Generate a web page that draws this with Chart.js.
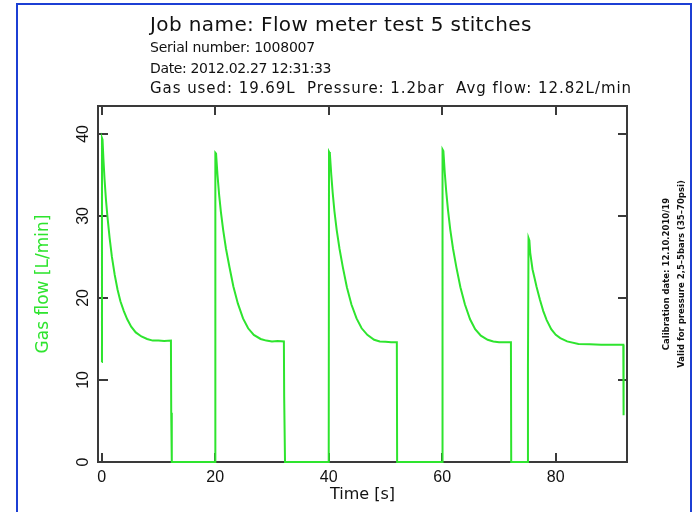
<!DOCTYPE html>
<html><head><meta charset="utf-8">
<script src="https://cdn.jsdelivr.net/npm/chart.js@4.4.0/dist/chart.umd.min.js"></script>
<style>
html,body{margin:0;padding:0;background:#fff;}
#wrap{position:relative;width:693px;height:512px;overflow:hidden;background:#fff;}
#frame{position:absolute;left:16px;top:3px;width:676px;height:540px;border:2px solid #1c3fd4;box-sizing:border-box;pointer-events:none;}
canvas{position:absolute;left:0;top:0;}
</style></head><body>
<div id="wrap"><canvas id="c" width="693" height="512"></canvas><div id="frame"></div></div>
<script>
// ---- text ----
const titleLine = 'Job name: Flow meter test 5 stitches';
const infoLines = ['Serial number: 1008007', 'Date: 2012.02.27 12:31:33', 'Gas used: 19.69L  Pressure: 1.2bar  Avg flow: 12.82L/min'];
const calibrationLines = ['Calibration date: 12.10.2010/19', 'Valid for pressure 2,5\u20135bars (35\u201370psi)'];
const xAxisTitle = 'Time [s]';
const yAxisTitle = 'Gas flow [L/min]';

// ---- ticks ----
const xTickValues = [0, 20, 40, 60, 80];
const yTickValues = [0, 10, 20, 30, 40];

// ---- data (time in s, flow in L/min) ----
const pulse1Time = [0.0, 0.05, 0.15, 0.3, 0.5, 0.75, 1.0, 1.4, 1.8, 2.3, 2.8, 3.3, 3.9, 4.5, 5.2, 6.0, 7.0, 8.0, 9.0, 10.0, 11.0, 12.2, 12.25, 12.35];
const pulse1Flow = [12.2, 39.5, 39.3, 37.0, 34.5, 32.0, 30.0, 27.3, 25.0, 22.8, 21.0, 19.6, 18.4, 17.4, 16.5, 15.8, 15.3, 15.0, 14.8, 14.8, 14.75, 14.8, 6.0, 0.0];

const pulse2Time = [20.0, 20.0, 20.05, 20.15, 20.4, 20.7, 21.0, 21.4, 21.9, 22.5, 23.2, 24.0, 24.9, 25.8, 26.8, 28.0, 29.0, 30.0, 31.0, 32.1, 32.15, 32.3];
const pulse2Flow = [0.0, 25.0, 37.7, 37.6, 35.0, 32.5, 30.5, 28.3, 26.0, 23.8, 21.4, 19.3, 17.5, 16.3, 15.5, 15.0, 14.8, 14.7, 14.75, 14.7, 8.0, 0.0];

const pulse3Time = [40.0, 40.05, 40.2, 40.45, 40.7, 41.0, 41.4, 41.9, 42.5, 43.2, 44.0, 44.9, 45.8, 46.8, 48.0, 49.0, 50.0, 51.0, 52.0, 52.05];
const pulse3Flow = [0.0, 37.8, 37.6, 35.0, 32.8, 30.6, 28.3, 26.0, 23.7, 21.3, 19.2, 17.5, 16.3, 15.5, 14.9, 14.7, 14.65, 14.6, 14.6, 0.0];

const pulse4Time = [60.0, 60.05, 60.2, 60.45, 60.7, 61.0, 61.4, 61.9, 62.5, 63.2, 64.0, 64.9, 65.8, 66.8, 68.0, 69.0, 70.0, 71.0, 72.1, 72.15];
const pulse4Flow = [0.0, 38.1, 37.9, 35.2, 33.0, 30.8, 28.4, 26.0, 23.7, 21.3, 19.2, 17.4, 16.2, 15.4, 14.9, 14.7, 14.6, 14.6, 14.6, 0.0];

const pulse5Time = [75.1, 75.1, 75.2, 75.35, 75.5, 75.9, 76.3, 76.6, 77.2, 77.8, 78.4, 79.2, 80.0, 80.8, 82.0, 84.0, 86.0, 88.0, 90.0, 91.9, 91.95];
const pulse5Flow = [0.0, 11.6, 27.3, 27.0, 25.5, 23.5, 22.3, 21.4, 19.8, 18.4, 17.3, 16.2, 15.5, 15.1, 14.7, 14.4, 14.35, 14.3, 14.3, 14.3, 5.7];

const timeSeconds = [].concat(pulse1Time, pulse2Time, pulse3Time, pulse4Time, pulse5Time);
const gasFlow = [].concat(pulse1Flow, pulse2Flow, pulse3Flow, pulse4Flow, pulse5Flow);

const GREEN = '#2ee42e';
const AXIS = '#3a3a3a';

function fitText(ctx, s, x, y, targetW) {
  ctx.letterSpacing = '0px';
  const w = ctx.measureText(s).width;
  const sp = (targetW - w) / s.length;
  ctx.letterSpacing = sp.toFixed(2) + 'px';
  ctx.fillText(s, x, y);
  ctx.letterSpacing = '0px';
}

const framePlugin = {
  id: 'frameTicks',
  beforeDatasetsDraw(chart) {
    const {ctx, chartArea: a, scales: {x, y}} = chart;
    ctx.save();
    ctx.strokeStyle = AXIS;
    ctx.lineWidth = 2;
    ctx.strokeRect(a.left, a.top, a.right - a.left, a.bottom - a.top);
    ctx.beginPath();
    x.ticks.forEach(t => {
      const px = Math.round(x.getPixelForValue(t.value));
      ctx.moveTo(px, a.bottom); ctx.lineTo(px, a.bottom - 9);
      ctx.moveTo(px, a.top); ctx.lineTo(px, a.top + 9);
    });
    y.ticks.forEach(t => {
      const py = Math.round(y.getPixelForValue(t.value));
      ctx.moveTo(a.left, py); ctx.lineTo(a.left + 10, py);
      ctx.moveTo(a.right, py); ctx.lineTo(a.right - 9, py);
    });
    ctx.stroke();
    ctx.restore();
  },
  afterDraw(chart) {
    const {ctx} = chart;
    ctx.save();
    ctx.fillStyle = '#111';
    ctx.textAlign = 'left';
    ctx.textBaseline = 'alphabetic';
    ctx.font = '20px "DejaVu Sans"';
    fitText(ctx, titleLine, 150, 31, 382);
    const base = [52, 73, 93];
    const widths = [165, 181, 482];
    const sizes = [14, 14, 15];
    infoLines.forEach((s, i) => {
      ctx.font = sizes[i] + 'px "DejaVu Sans"';
      fitText(ctx, s, 150, base[i], widths[i]);
    });
    ctx.font = 'bold 8.5px "DejaVu Sans"';
    ctx.textAlign = 'center';
    ctx.textBaseline = 'middle';
    const cx = [667, 682];
    calibrationLines.forEach((s, i) => {
      ctx.save();
      ctx.translate(cx[i], 274);
      ctx.rotate(-Math.PI / 2);
      ctx.fillText(s, 0, 0);
      ctx.restore();
    });
    ctx.restore();
  }
};

new Chart(document.getElementById('c'), {
  type: 'line',
  data: {
    datasets: [{
      data: timeSeconds.map((t, i) => ({x: t, y: gasFlow[i]})),
      borderColor: GREEN,
      borderWidth: 2,
      pointRadius: 0,
      tension: 0,
      fill: false,
      clip: false
    }]
  },
  options: {
    responsive: false,
    animation: false,
    devicePixelRatio: 1,
    layout: {padding: {left: 0, right: 66, top: 106, bottom: 0}},
    plugins: {legend: {display: false}, tooltip: {enabled: false}, title: {display: false}},
    scales: {
      x: {
        type: 'linear',
        min: -0.65,
        max: 92.55,
        afterBuildTicks: s => { s.ticks = xTickValues.map(v => ({value: v})); },
        afterFit: s => { s.height = 50; },
        grid: {display: false, drawTicks: false},
        border: {display: false},
        ticks: {color: '#111', font: {family: 'Liberation Sans', size: 16}, padding: 6, maxRotation: 0, minRotation: 0},
        title: {display: true, text: xAxisTitle, color: '#111', font: {family: 'DejaVu Sans', size: 16}, padding: {top: 0, bottom: 8}}
      },
      y: {
        type: 'linear',
        min: 0,
        max: 43.4,
        afterBuildTicks: s => { s.ticks = yTickValues.map(v => ({value: v})); },
        afterFit: s => { s.width = 98; },
        grid: {display: false, drawTicks: false},
        border: {display: false},
        ticks: {color: '#111', font: {family: 'Liberation Sans', size: 16}, padding: 6, minRotation: 90, maxRotation: 90, crossAlign: 'center'},
        title: {display: true, text: yAxisTitle, color: GREEN, font: {family: 'DejaVu Sans', size: 17}, padding: {top: 33, bottom: 0}}
      }
    }
  },
  plugins: [framePlugin]
});
</script>
</body></html>
